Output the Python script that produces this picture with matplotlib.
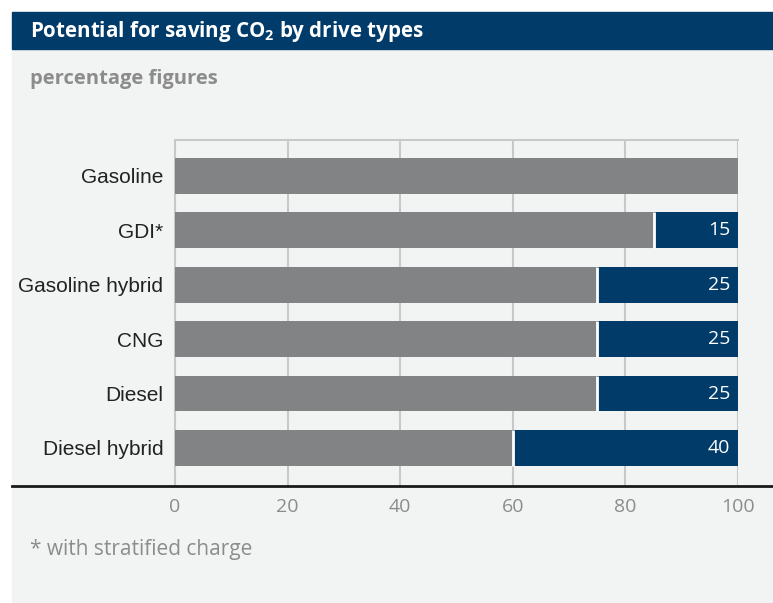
import matplotlib.pyplot as plt
from matplotlib.patches import Rectangle
from matplotlib.lines import Line2D

plt.rcParams['mathtext.fontset'] = 'custom'
plt.rcParams['mathtext.rm'] = 'Open Sans'
plt.rcParams['mathtext.bf'] = 'Open Sans:bold'

# data
drive_types = ['Gasoline', 'GDI*', 'Gasoline hybrid', 'CNG', 'Diesel', 'Diesel hybrid']
remaining = [100, 85, 75, 75, 75, 60]
saving = [0, 15, 25, 25, 25, 40]
x_ticks = [0, 20, 40, 60, 80, 100]

BLUE = '#003b6a'
GREY_BAR = '#828384'
PANEL = '#f2f3f3'
GRID = '#c8c8c8'
TEXT_GREY = '#8c8c8c'

W, H = 773, 603
fig = plt.figure(figsize=(W / 100, H / 100), dpi=100)
fig.patch.set_facecolor('white')

# panel and header
fig.patches.append(Rectangle((12 / W, 0), 1 - 12 / W, 1 - 49 / H,
                             transform=fig.transFigure, color=PANEL, zorder=-2))
fig.patches.append(Rectangle((12 / W, 1 - 49 / H), 1 - 12 / W, 37 / H,
                             transform=fig.transFigure, color=BLUE, zorder=-2))
fig.text(30 / W, 1 - 31 / H, r'Potential for saving $\mathbf{CO_2}$ by drive types',
         color='white', fontsize=14.8, fontweight='bold', family='Open Sans',
         va='center', ha='left')
fig.text(30 / W, 1 - 79 / H, 'percentage figures', color=TEXT_GREY,
         fontsize=14.5, fontweight='bold', family='Open Sans', va='center')
fig.text(30 / W, 1 - 550 / H, '* with stratified charge', color=TEXT_GREY,
         fontsize=15, family='Open Sans', va='center')

ax = fig.add_axes([175 / W, 1 - 486 / H, (738 - 175) / W, (486 - 140) / H])
ax.set_facecolor('none')

y = list(range(len(drive_types)))
ax.barh(y, remaining, height=0.66, color=GREY_BAR, zorder=3)
ax.barh(y, saving, left=remaining, height=0.66, color=BLUE, zorder=3)
# thin white separator between segments and value labels
for yi, r, s in zip(y, remaining, saving):
    if s > 0:
        ax.plot([r, r], [yi - 0.33, yi + 0.33], color='white', lw=2, zorder=4,
                solid_capstyle='butt')
        ax.text(r + s - 1.4, yi, str(s), color='white', fontsize=14,
                family='Open Sans', ha='right', va='center', zorder=5)

ax.set_xlim(0, 100)
ax.set_ylim(len(drive_types) - 1 + 0.70, -0.66)
ax.set_yticks(y)
ax.set_yticklabels(drive_types, fontsize=15, family='Liberation Sans',
                   color='#222222')
ax.set_xticks(x_ticks)
ax.set_xticklabels([str(t) for t in x_ticks], fontsize=14, family='Open Sans',
                   color=TEXT_GREY)
ax.tick_params(axis='both', length=0)
ax.tick_params(axis='y', pad=8.5)
ax.tick_params(axis='x', pad=8.5)
ax.grid(axis='x', color=GRID, lw=1.5, zorder=1)
for side in ['top', 'left']:
    ax.spines[side].set_color(GRID)
    ax.spines[side].set_linewidth(1.5)
ax.spines['right'].set_visible(False)
ax.spines['bottom'].set_visible(False)

# black baseline across the whole panel
fig.lines.append(Line2D([12 / W, 1], [1 - 486 / H, 1 - 486 / H],
                        transform=fig.transFigure, color='#1a1a1a', lw=2))

fig.savefig('out.png', dpi=100, facecolor=fig.get_facecolor())
